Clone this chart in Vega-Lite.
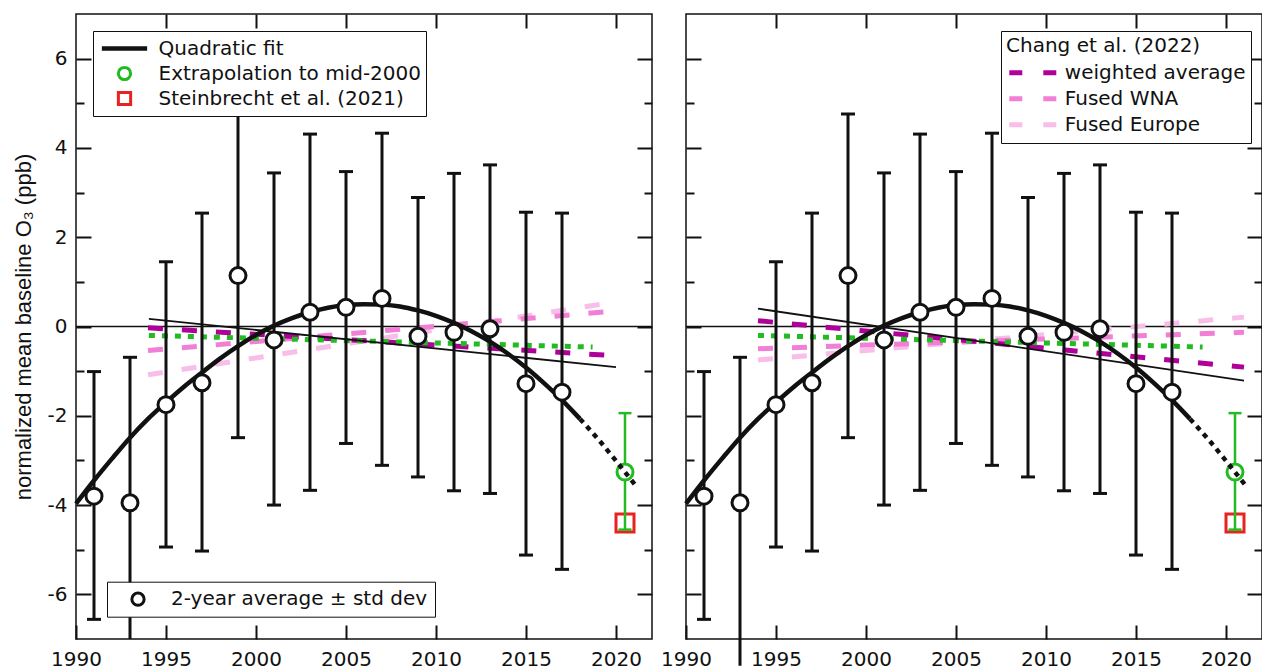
{
  "$schema": "https://vega.github.io/schema/vega-lite/v6.json",
  "background": "white",
  "padding": {"left": 11, "top": 12, "right": 0, "bottom": 0},
  "bounds": "flush",
  "spacing": 34,
  "config": {
    "view": {"stroke": "#111", "strokeWidth": 1.5},
    "axis": {"domain": false, "grid": false, "tickColor": "#111", "tickWidth": 2, "labelFont": "DejaVu Sans", "labelFontSize": 20, "labelColor": "#111", "titleFont": "Liberation Sans", "titleFontSize": 22, "titleFontWeight": "normal", "titleColor": "#111", "labelFlush": false, "labelOverlap": false},
    "legend": {"labelFont": "DejaVu Sans", "labelFontSize": 20, "labelColor": "#111", "titleFont": "DejaVu Sans", "titleFontSize": 20, "titleFontWeight": "normal", "titleColor": "#111", "strokeColor": "#111", "fillColor": "white", "cornerRadius": 0, "labelLimit": 400, "titleLimit": 400, "symbolOpacity": 1, "rowPadding": 0}
  },
  "resolve": {
    "scale": {"stroke": "independent", "color": "independent", "shape": "independent", "fill": "independent"},
    "legend": {"stroke": "independent", "color": "independent", "shape": "independent", "fill": "independent"}
  },
  "datasets": {
    "pts": [
      {"x": 1991, "y": -3.80, "lo": -6.56, "hi": -1.01},
      {"x": 1993, "y": -3.95, "lo": -7.6, "hi": -0.69},
      {"x": 1995, "y": -1.75, "lo": -4.94, "hi": 1.45},
      {"x": 1997, "y": -1.26, "lo": -5.03, "hi": 2.54},
      {"x": 1999, "y": 1.14, "lo": -2.49, "hi": 4.76},
      {"x": 2001, "y": -0.30, "lo": -4.00, "hi": 3.44},
      {"x": 2003, "y": 0.32, "lo": -3.67, "hi": 4.31},
      {"x": 2005, "y": 0.43, "lo": -2.62, "hi": 3.47},
      {"x": 2007, "y": 0.63, "lo": -3.11, "hi": 4.33},
      {"x": 2009, "y": -0.22, "lo": -3.37, "hi": 2.89},
      {"x": 2011, "y": -0.13, "lo": -3.68, "hi": 3.43},
      {"x": 2013, "y": -0.05, "lo": -3.74, "hi": 3.62},
      {"x": 2015, "y": -1.28, "lo": -5.12, "hi": 2.56},
      {"x": 2017, "y": -1.47, "lo": -5.44, "hi": 2.54}
    ],
    "quad": [
      {"x": 1990, "y": -3.97, "seg": "solid"},
      {"x": 1991, "y": -3.45, "seg": "solid"},
      {"x": 1992, "y": -2.96, "seg": "solid"},
      {"x": 1993, "y": -2.49, "seg": "solid"},
      {"x": 1994, "y": -2.07, "seg": "solid"},
      {"x": 1995, "y": -1.70, "seg": "solid"},
      {"x": 1996, "y": -1.35, "seg": "solid"},
      {"x": 1997, "y": -1.03, "seg": "solid"},
      {"x": 1998, "y": -0.72, "seg": "solid"},
      {"x": 1999, "y": -0.44, "seg": "solid"},
      {"x": 2000, "y": -0.19, "seg": "solid"},
      {"x": 2001, "y": 0.02, "seg": "solid"},
      {"x": 2002, "y": 0.19, "seg": "solid"},
      {"x": 2003, "y": 0.32, "seg": "solid"},
      {"x": 2004, "y": 0.42, "seg": "solid"},
      {"x": 2005, "y": 0.48, "seg": "solid"},
      {"x": 2006, "y": 0.50, "seg": "solid"},
      {"x": 2007, "y": 0.49, "seg": "solid"},
      {"x": 2008, "y": 0.45, "seg": "solid"},
      {"x": 2009, "y": 0.36, "seg": "solid"},
      {"x": 2010, "y": 0.24, "seg": "solid"},
      {"x": 2011, "y": 0.08, "seg": "solid"},
      {"x": 2012, "y": -0.11, "seg": "solid"},
      {"x": 2013, "y": -0.34, "seg": "solid"},
      {"x": 2014, "y": -0.61, "seg": "solid"},
      {"x": 2015, "y": -0.92, "seg": "solid"},
      {"x": 2016, "y": -1.27, "seg": "solid"},
      {"x": 2017, "y": -1.65, "seg": "solid"},
      {"x": 2018, "y": -2.07, "seg": "solid"},
      {"x": 2018, "y": -2.07, "seg": "dot"},
      {"x": 2019, "y": -2.52, "seg": "dot"},
      {"x": 2020, "y": -3.01, "seg": "dot"},
      {"x": 2021.05, "y": -3.54, "seg": "dot"}
    ],
    "lines": [
      {"p": "L", "id": "black", "x": 1994.05, "y": 0.17},
      {"p": "L", "id": "black", "x": 2020.0, "y": -0.91},
      {"p": "L", "id": "green", "x": 1994.05, "y": -0.20},
      {"p": "L", "id": "green", "x": 2018.7, "y": -0.46},
      {"p": "R", "id": "black", "x": 1994.0, "y": 0.40},
      {"p": "R", "id": "black", "x": 2021.0, "y": -1.21},
      {"p": "R", "id": "green", "x": 1994.0, "y": -0.20},
      {"p": "R", "id": "green", "x": 2018.7, "y": -0.46}
    ],
    "chang": [
      {"p": "L", "s": "Fused Europe", "x": 1994.0, "y": -1.08},
      {"p": "L", "s": "Fused Europe", "x": 2019.5, "y": 0.52},
      {"p": "L", "s": "Fused WNA", "x": 1994.0, "y": -0.54},
      {"p": "L", "s": "Fused WNA", "x": 2019.8, "y": 0.34},
      {"p": "L", "s": "weighted average", "x": 1994.0, "y": -0.03},
      {"p": "L", "s": "weighted average", "x": 2019.8, "y": -0.65},
      {"p": "R", "s": "Fused Europe", "x": 1994.0, "y": -0.75},
      {"p": "R", "s": "Fused Europe", "x": 2021.0, "y": 0.21},
      {"p": "R", "s": "Fused WNA", "x": 1994.0, "y": -0.50},
      {"p": "R", "s": "Fused WNA", "x": 2021.0, "y": -0.13},
      {"p": "R", "s": "weighted average", "x": 1994.0, "y": 0.13},
      {"p": "R", "s": "weighted average", "x": 2021.0, "y": -0.91}
    ],
    "ext": [
      {"x": 2020.5, "y": -3.26, "lo": -4.55, "hi": -1.94, "sq": -4.40}
    ]
  },
  "hconcat": [
    {
      "width": 576,
      "height": 625,
      "resolve": {"axis": {"x": "independent", "y": "independent"}},
      "layer": [
        {"data": {"values": [{}]}, "mark": {"type": "rule", "color": "#111", "strokeWidth": 1.5},
         "encoding": {"y": {"datum": 0, "type": "quantitative", "scale": {"domain": [-7, 7], "nice": false, "zero": false}, "axis": null}}},
        {"data": {"name": "chang"}, "transform": [{"filter": "datum.p === 'L'"}],
         "mark": {"type": "line", "strokeWidth": 5, "strokeDash": [15, 19]},
         "encoding": {
           "x": {"field": "x", "type": "quantitative", "scale": {"domain": [1990, 2022], "nice": false, "zero": false}, "axis": null},
           "y": {"field": "y", "type": "quantitative", "scale": {"domain": [-7, 7], "nice": false, "zero": false}, "axis": null},
           "stroke": {"field": "s", "type": "nominal", "scale": {"domain": ["weighted average", "Fused WNA", "Fused Europe"], "range": ["#b0009a", "#f07fd5", "#f8bde8"]}, "legend": null}
         }},
        {"data": {"name": "lines"}, "transform": [{"filter": "datum.p === 'L' && datum.id === 'green'"}],
         "mark": {"type": "line", "color": "#22bb22", "strokeWidth": 5, "strokeDash": [6, 7]},
         "encoding": {
           "x": {"field": "x", "type": "quantitative", "scale": {"domain": [1990, 2022], "nice": false, "zero": false}, "axis": null},
           "y": {"field": "y", "type": "quantitative", "scale": {"domain": [-7, 7], "nice": false, "zero": false}, "axis": null}
         }},
        {"data": {"name": "lines"}, "transform": [{"filter": "datum.p === 'L' && datum.id === 'black'"}],
         "mark": {"type": "line", "color": "#111", "strokeWidth": 1.8},
         "encoding": {
           "x": {"field": "x", "type": "quantitative", "scale": {"domain": [1990, 2022], "nice": false, "zero": false}, "axis": null},
           "y": {"field": "y", "type": "quantitative", "scale": {"domain": [-7, 7], "nice": false, "zero": false}, "axis": null}
         }},
        {"data": {"name": "pts"},
         "mark": {"type": "rule", "color": "#111", "strokeWidth": 3, "clip": true},
         "encoding": {
           "x": {"field": "x", "type": "quantitative", "scale": {"domain": [1990, 2022], "nice": false, "zero": false},
                 "axis": {"orient": "bottom", "values": [1990, 1995, 2000, 2005, 2010, 2015, 2020], "tickSize": -14, "labelPadding": 24, "labelExpr": "'' + datum.value", "title": null}},
           "y": {"field": "lo", "type": "quantitative", "scale": {"domain": [-7, 7], "nice": false, "zero": false},
                 "axis": {"orient": "left", "values": [-6, -5, -4, -3, -2, -1, 0, 1, 2, 3, 4, 5, 6], "tickSize": {"condition": {"test": "datum.value % 2 === 0", "value": -15}, "value": -8}, "labelPadding": 24, "labelExpr": "datum.value % 2 === 0 ? '' + datum.value : ''", "title": "normalized mean baseline O₃ (ppb)", "titlePadding": 12}},
           "y2": {"field": "hi"}
         }},
        {"data": {"name": "pts"}, "transform": [{"filter": "datum.lo > -7"}],
         "mark": {"type": "tick", "orient": "horizontal", "size": 14, "thickness": 3, "color": "#111", "opacity": 1},
         "encoding": {
           "x": {"field": "x", "type": "quantitative", "scale": {"domain": [1990, 2022], "nice": false, "zero": false}, "axis": null},
           "y": {"field": "lo", "type": "quantitative", "scale": {"domain": [-7, 7], "nice": false, "zero": false}, "axis": null}
         }},
        {"data": {"name": "pts"},
         "mark": {"type": "tick", "orient": "horizontal", "size": 14, "thickness": 3, "color": "#111", "opacity": 1},
         "encoding": {
           "x": {"field": "x", "type": "quantitative", "scale": {"domain": [1990, 2022], "nice": false, "zero": false},
                 "axis": {"orient": "top", "values": [1995, 2000, 2005, 2010, 2015, 2020], "tickSize": -14, "labels": false, "title": null}},
           "y": {"field": "hi", "type": "quantitative", "scale": {"domain": [-7, 7], "nice": false, "zero": false},
                 "axis": {"orient": "right", "values": [-6, -5, -4, -3, -2, -1, 0, 1, 2, 3, 4, 5, 6], "tickSize": {"condition": {"test": "datum.value % 2 === 0", "value": -15}, "value": -8}, "labels": false, "title": null}}
         }},
        {"data": {"name": "quad"}, "transform": [{"filter": "datum.seg === 'solid'"}],
         "mark": {"type": "line", "color": "#111", "strokeWidth": 4.5, "interpolate": "monotone"},
         "encoding": {
           "x": {"field": "x", "type": "quantitative", "scale": {"domain": [1990, 2022], "nice": false, "zero": false}, "axis": null},
           "y": {"field": "y", "type": "quantitative", "scale": {"domain": [-7, 7], "nice": false, "zero": false}, "axis": null}
         }},
        {"data": {"name": "pts"},
         "mark": {"type": "point", "filled": true, "stroke": "#111", "strokeWidth": 3, "size": 256, "opacity": 1},
         "encoding": {
           "x": {"field": "x", "type": "quantitative", "scale": {"domain": [1990, 2022], "nice": false, "zero": false}, "axis": null},
           "y": {"field": "y", "type": "quantitative", "scale": {"domain": [-7, 7], "nice": false, "zero": false}, "axis": null},
           "fill": {"datum": "2-year average ± std dev", "type": "nominal", "scale": {"domain": ["2-year average ± std dev"], "range": ["white"]},
                    "legend": {"orient": "none", "legendX": 31, "legendY": 567.7, "direction": "vertical", "title": null, "padding": 7, "symbolType": "circle", "symbolSize": 150, "symbolStrokeWidth": 3, "symbolStrokeColor": "#111", "symbolOffset": 14, "labelOffset": 23, "clipHeight": 21}}
         }},
        {"data": {"name": "ext"},
         "mark": {"type": "point", "shape": "square", "filled": false, "color": "#e8231f", "strokeWidth": 3, "size": 324, "opacity": 1},
         "encoding": {
           "x": {"field": "x", "type": "quantitative", "scale": {"domain": [1990, 2022], "nice": false, "zero": false}, "axis": null},
           "y": {"field": "sq", "type": "quantitative", "scale": {"domain": [-7, 7], "nice": false, "zero": false}, "axis": null}
         }},
        {"data": {"name": "ext"},
         "mark": {"type": "rule", "color": "#22bb22", "strokeWidth": 2.5},
         "encoding": {
           "x": {"field": "x", "type": "quantitative", "scale": {"domain": [1990, 2022], "nice": false, "zero": false}, "axis": null},
           "y": {"field": "lo", "type": "quantitative", "scale": {"domain": [-7, 7], "nice": false, "zero": false}, "axis": null},
           "y2": {"field": "hi"}
         }},
        {"data": {"name": "ext"},
         "mark": {"type": "tick", "orient": "horizontal", "size": 13, "thickness": 2.5, "color": "#22bb22", "opacity": 1},
         "encoding": {
           "x": {"field": "x", "type": "quantitative", "scale": {"domain": [1990, 2022], "nice": false, "zero": false}, "axis": null},
           "y": {"field": "lo", "type": "quantitative", "scale": {"domain": [-7, 7], "nice": false, "zero": false}, "axis": null}
         }},
        {"data": {"name": "ext"},
         "mark": {"type": "tick", "orient": "horizontal", "size": 13, "thickness": 2.5, "color": "#22bb22", "opacity": 1},
         "encoding": {
           "x": {"field": "x", "type": "quantitative", "scale": {"domain": [1990, 2022], "nice": false, "zero": false}, "axis": null},
           "y": {"field": "hi", "type": "quantitative", "scale": {"domain": [-7, 7], "nice": false, "zero": false}, "axis": null}
         }},
        {"data": {"name": "ext"},
         "mark": {"type": "point", "filled": true, "fill": "white", "stroke": "#22bb22", "strokeWidth": 3, "size": 256, "opacity": 1},
         "encoding": {
           "x": {"field": "x", "type": "quantitative", "scale": {"domain": [1990, 2022], "nice": false, "zero": false}, "axis": null},
           "y": {"field": "y", "type": "quantitative", "scale": {"domain": [-7, 7], "nice": false, "zero": false}, "axis": null}
         }},
        {"data": {"name": "quad"}, "transform": [{"filter": "datum.seg === 'dot'"}],
         "mark": {"type": "line", "color": "#111", "strokeWidth": 4.5, "strokeDash": [5, 5], "interpolate": "monotone"},
         "encoding": {
           "x": {"field": "x", "type": "quantitative", "scale": {"domain": [1990, 2022], "nice": false, "zero": false}, "axis": null},
           "y": {"field": "y", "type": "quantitative", "scale": {"domain": [-7, 7], "nice": false, "zero": false}, "axis": null}
         }},
        {"data": {"values": []},
         "mark": {"type": "point", "filled": false, "strokeWidth": 3, "opacity": 1},
         "encoding": {
           "x": {"field": "x", "type": "quantitative", "scale": {"domain": [1990, 2022], "nice": false, "zero": false}, "axis": null},
           "y": {"field": "y", "type": "quantitative", "scale": {"domain": [-7, 7], "nice": false, "zero": false}, "axis": null},
           "color": {"field": "lg", "type": "nominal",
                     "scale": {"domain": ["Quadratic fit", "Extrapolation to mid-2000", "Steinbrecht et al. (2021)"], "range": ["#111111", "#22bb22", "#e8231f"]},
                     "legend": {"orient": "none", "legendX": 17, "legendY": 17, "direction": "vertical", "title": null, "padding": 5, "symbolSize": 150, "symbolStrokeWidth": 3, "symbolOffset": 16.5, "labelOffset": 24, "clipHeight": 25}},
           "shape": {"field": "lg", "type": "nominal",
                     "scale": {"domain": ["Quadratic fit", "Extrapolation to mid-2000", "Steinbrecht et al. (2021)"], "range": ["M-3.45,-0.12H3.45V0.12H-3.45Z", "circle", "square"]},
                     "legend": {"orient": "none", "legendX": 17, "legendY": 17, "direction": "vertical", "title": null, "padding": 5, "symbolSize": 150, "symbolStrokeWidth": 3, "symbolOffset": 16.5, "labelOffset": 24, "clipHeight": 25}}
         }}
      ]
    },
    {
      "width": 576,
      "height": 625,
      "resolve": {"axis": {"x": "independent", "y": "independent"}},
      "layer": [
        {"data": {"values": [{}]}, "mark": {"type": "rule", "color": "#111", "strokeWidth": 1.5},
         "encoding": {"y": {"datum": 0, "type": "quantitative", "scale": {"domain": [-7, 7], "nice": false, "zero": false}, "axis": null}}},
        {"data": {"name": "chang"}, "transform": [{"filter": "datum.p === 'R'"}],
         "mark": {"type": "line", "strokeWidth": 5, "strokeDash": [15, 19]},
         "encoding": {
           "x": {"field": "x", "type": "quantitative", "scale": {"domain": [1990, 2022], "nice": false, "zero": false}, "axis": null},
           "y": {"field": "y", "type": "quantitative", "scale": {"domain": [-7, 7], "nice": false, "zero": false}, "axis": null},
           "stroke": {"field": "s", "type": "nominal", "scale": {"domain": ["weighted average", "Fused WNA", "Fused Europe"], "range": ["#b0009a", "#f07fd5", "#f8bde8"]},
                      "legend": {"orient": "none", "legendX": 315, "legendY": 17, "direction": "vertical", "title": "Chang et al. (2022)", "titleAnchor": "start", "titlePadding": 4, "padding": 5, "symbolType": "stroke", "symbolSize": 2209, "symbolStrokeWidth": 5, "symbolDash": [13, 21], "symbolOffset": 0.8, "labelOffset": 6, "clipHeight": 25.5}}
         }},
        {"data": {"name": "lines"}, "transform": [{"filter": "datum.p === 'R' && datum.id === 'green'"}],
         "mark": {"type": "line", "color": "#22bb22", "strokeWidth": 5, "strokeDash": [6, 7]},
         "encoding": {
           "x": {"field": "x", "type": "quantitative", "scale": {"domain": [1990, 2022], "nice": false, "zero": false}, "axis": null},
           "y": {"field": "y", "type": "quantitative", "scale": {"domain": [-7, 7], "nice": false, "zero": false}, "axis": null}
         }},
        {"data": {"name": "lines"}, "transform": [{"filter": "datum.p === 'R' && datum.id === 'black'"}],
         "mark": {"type": "line", "color": "#111", "strokeWidth": 1.8},
         "encoding": {
           "x": {"field": "x", "type": "quantitative", "scale": {"domain": [1990, 2022], "nice": false, "zero": false}, "axis": null},
           "y": {"field": "y", "type": "quantitative", "scale": {"domain": [-7, 7], "nice": false, "zero": false}, "axis": null}
         }},
        {"data": {"name": "pts"},
         "mark": {"type": "rule", "color": "#111", "strokeWidth": 3},
         "encoding": {
           "x": {"field": "x", "type": "quantitative", "scale": {"domain": [1990, 2022], "nice": false, "zero": false},
                 "axis": {"orient": "bottom", "values": [1990, 1995, 2000, 2005, 2010, 2015, 2020], "tickSize": -14, "labelPadding": 24, "labelExpr": "'' + datum.value", "title": null}},
           "y": {"field": "lo", "type": "quantitative", "scale": {"domain": [-7, 7], "nice": false, "zero": false},
                 "axis": {"orient": "left", "values": [-6, -5, -4, -3, -2, -1, 0, 1, 2, 3, 4, 5, 6], "tickSize": {"condition": {"test": "datum.value % 2 === 0", "value": -15}, "value": -8}, "labels": false, "title": null}},
           "y2": {"field": "hi"}
         }},
        {"data": {"name": "pts"}, "transform": [{"filter": "datum.lo > -7"}],
         "mark": {"type": "tick", "orient": "horizontal", "size": 14, "thickness": 3, "color": "#111", "opacity": 1},
         "encoding": {
           "x": {"field": "x", "type": "quantitative", "scale": {"domain": [1990, 2022], "nice": false, "zero": false}, "axis": null},
           "y": {"field": "lo", "type": "quantitative", "scale": {"domain": [-7, 7], "nice": false, "zero": false}, "axis": null}
         }},
        {"data": {"name": "pts"},
         "mark": {"type": "tick", "orient": "horizontal", "size": 14, "thickness": 3, "color": "#111", "opacity": 1},
         "encoding": {
           "x": {"field": "x", "type": "quantitative", "scale": {"domain": [1990, 2022], "nice": false, "zero": false},
                 "axis": {"orient": "top", "values": [1995, 2000, 2005, 2010, 2015, 2020], "tickSize": -14, "labels": false, "title": null}},
           "y": {"field": "hi", "type": "quantitative", "scale": {"domain": [-7, 7], "nice": false, "zero": false},
                 "axis": {"orient": "right", "values": [-6, -5, -4, -3, -2, -1, 0, 1, 2, 3, 4, 5, 6], "tickSize": {"condition": {"test": "datum.value % 2 === 0", "value": -15}, "value": -8}, "labels": false, "title": null}}
         }},
        {"data": {"name": "quad"}, "transform": [{"filter": "datum.seg === 'solid'"}],
         "mark": {"type": "line", "color": "#111", "strokeWidth": 4.5, "interpolate": "monotone"},
         "encoding": {
           "x": {"field": "x", "type": "quantitative", "scale": {"domain": [1990, 2022], "nice": false, "zero": false}, "axis": null},
           "y": {"field": "y", "type": "quantitative", "scale": {"domain": [-7, 7], "nice": false, "zero": false}, "axis": null}
         }},
        {"data": {"name": "pts"},
         "mark": {"type": "point", "filled": true, "fill": "white", "stroke": "#111", "strokeWidth": 3, "size": 256, "opacity": 1},
         "encoding": {
           "x": {"field": "x", "type": "quantitative", "scale": {"domain": [1990, 2022], "nice": false, "zero": false}, "axis": null},
           "y": {"field": "y", "type": "quantitative", "scale": {"domain": [-7, 7], "nice": false, "zero": false}, "axis": null}
         }},
        {"data": {"name": "ext"},
         "mark": {"type": "point", "shape": "square", "filled": false, "color": "#e8231f", "strokeWidth": 3, "size": 324, "opacity": 1},
         "encoding": {
           "x": {"field": "x", "type": "quantitative", "scale": {"domain": [1990, 2022], "nice": false, "zero": false}, "axis": null},
           "y": {"field": "sq", "type": "quantitative", "scale": {"domain": [-7, 7], "nice": false, "zero": false}, "axis": null}
         }},
        {"data": {"name": "ext"},
         "mark": {"type": "rule", "color": "#22bb22", "strokeWidth": 2.5},
         "encoding": {
           "x": {"field": "x", "type": "quantitative", "scale": {"domain": [1990, 2022], "nice": false, "zero": false}, "axis": null},
           "y": {"field": "lo", "type": "quantitative", "scale": {"domain": [-7, 7], "nice": false, "zero": false}, "axis": null},
           "y2": {"field": "hi"}
         }},
        {"data": {"name": "ext"},
         "mark": {"type": "tick", "orient": "horizontal", "size": 13, "thickness": 2.5, "color": "#22bb22", "opacity": 1},
         "encoding": {
           "x": {"field": "x", "type": "quantitative", "scale": {"domain": [1990, 2022], "nice": false, "zero": false}, "axis": null},
           "y": {"field": "lo", "type": "quantitative", "scale": {"domain": [-7, 7], "nice": false, "zero": false}, "axis": null}
         }},
        {"data": {"name": "ext"},
         "mark": {"type": "tick", "orient": "horizontal", "size": 13, "thickness": 2.5, "color": "#22bb22", "opacity": 1},
         "encoding": {
           "x": {"field": "x", "type": "quantitative", "scale": {"domain": [1990, 2022], "nice": false, "zero": false}, "axis": null},
           "y": {"field": "hi", "type": "quantitative", "scale": {"domain": [-7, 7], "nice": false, "zero": false}, "axis": null}
         }},
        {"data": {"name": "ext"},
         "mark": {"type": "point", "filled": true, "fill": "white", "stroke": "#22bb22", "strokeWidth": 3, "size": 256, "opacity": 1},
         "encoding": {
           "x": {"field": "x", "type": "quantitative", "scale": {"domain": [1990, 2022], "nice": false, "zero": false}, "axis": null},
           "y": {"field": "y", "type": "quantitative", "scale": {"domain": [-7, 7], "nice": false, "zero": false}, "axis": null}
         }},
        {"data": {"name": "quad"}, "transform": [{"filter": "datum.seg === 'dot'"}],
         "mark": {"type": "line", "color": "#111", "strokeWidth": 4.5, "strokeDash": [5, 5], "interpolate": "monotone"},
         "encoding": {
           "x": {"field": "x", "type": "quantitative", "scale": {"domain": [1990, 2022], "nice": false, "zero": false}, "axis": null},
           "y": {"field": "y", "type": "quantitative", "scale": {"domain": [-7, 7], "nice": false, "zero": false}, "axis": null}
         }}
      ]
    }
  ]
}
